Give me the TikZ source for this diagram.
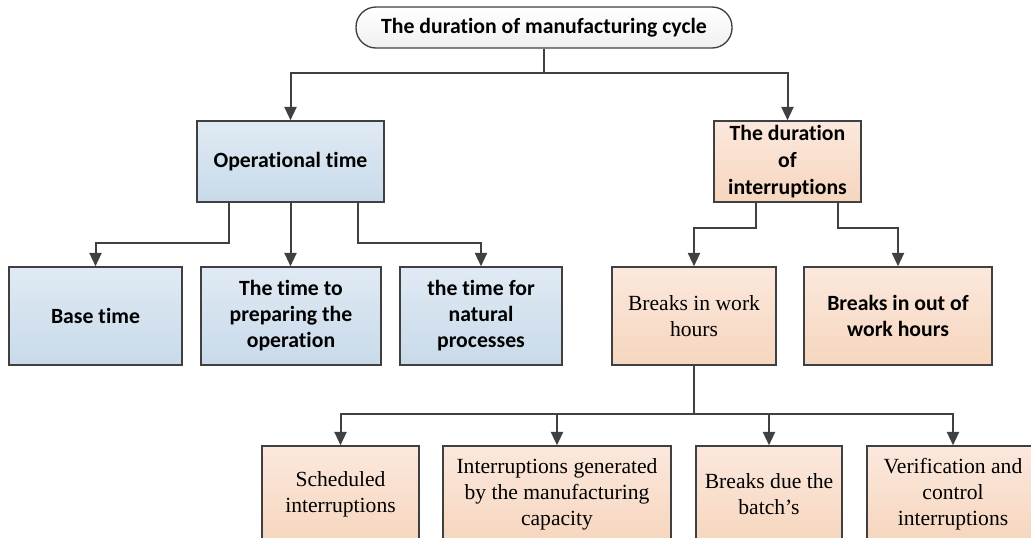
\documentclass[tikz,border=0pt]{standalone}
\usepackage{fontspec}
\setmainfont{Liberation Serif}
\newfontfamily\calibri[Ligatures=NoCommon]{Carlito}
\usetikzlibrary{arrows.meta,calc}
\definecolor{bluetop}{RGB}{224,234,244}
\definecolor{bluebot}{RGB}{200,218,234}
\definecolor{peachtop}{RGB}{251,232,221}
\definecolor{peachbot}{RGB}{246,214,190}
\definecolor{linegray}{RGB}{64,64,64}

\begin{document}
\begin{tikzpicture}
		[x=0.75pt,y=-0.75pt,
		 box/.style={draw=linegray,line width=1.1pt,align=center,inner sep=2pt,minimum height=73.5pt},
		 opbox/.style={box,top color=bluetop,bottom color=bluebot,font=\calibri\bfseries\fontsize{16.3}{19.5}\selectfont},
		 intbox/.style={box,top color=peachtop,bottom color=peachbot,font=\calibri\bfseries\fontsize{16.3}{20}\selectfont},
		 brkbox/.style={box,top color=peachtop,bottom color=peachbot,font=\fontsize{16.2}{19.5}\selectfont},
		 link/.style={draw=linegray,line width=1.5pt,-{Triangle[width=9pt,length=10pt]}}]
		\useasboundingbox (0,0) rectangle (1031,537);
		\clip (0,0) rectangle (1031,537);

		% the whole cycle on top
		\node[draw=linegray,line width=1pt,rounded corners=15pt,top color=white,bottom color=black!6,
			minimum width=282pt,minimum height=30.75pt,
			font=\calibri\bfseries\fontsize{16.3}{19}\selectfont] (cycle) at (544,27.5) {The duration of manufacturing cycle};

		% first level
		\node[opbox,minimum width=140.25pt,minimum height=60.75pt] (optime) at (290.5,161.5) {Operational time};
		\node[intbox,minimum width=110.25pt,minimum height=60.75pt] (interr) at (787.5,161.5) {The duration\\of\\interruptions};

		% parts of the operational time
		\node[opbox,minimum width=129.75pt] (base) at (95.5,316) {Base time};
		\node[opbox,minimum width=135pt] (prep) at (291,316) {The time to\\preparing the\\operation};
		\node[opbox,minimum width=121.5pt] (natural) at (481,316) {the time for\\natural\\processes};

		% kinds of interruptions
		\node[brkbox,minimum width=123pt] (workhrs) at (694,316) {Breaks in work\\hours};
		\node[intbox,minimum width=141pt] (outhrs) at (898,316) {Breaks in out of\\work hours};

		% breaks in work hours
		\node[brkbox,minimum width=117.75pt,minimum height=72pt] (sched) at (340.5,494) {Scheduled\\interruptions};
		\node[brkbox,minimum width=171pt,minimum height=72pt] (capac) at (557,494) {Interruptions generated\\by the manufacturing\\capacity};
		\node[brkbox,minimum width=109.5pt,minimum height=72pt] (batch) at (769,494) {Breaks due the\\batch’s};
		\node[brkbox,minimum width=129pt,minimum height=72pt] (verif) at (953,494) {Verification and\\control\\interruptions};

		% connectors
		\draw[link] (cycle.south) -- ++(0,24) -| (optime.north);
		\draw[link] (cycle.south) -- ++(0,24) -| (interr.north);

		\draw[link] ($(optime.south)+(-62,0)$) -- ++(0,40) -| (base.north);
		\draw[link] (optime.south) -- (optime.south |- prep.north);
		\draw[link] ($(optime.south)+(67,0)$) -- ++(0,40) -| (natural.north);

		\draw[link] ($(interr.south)+(-32,0)$) -- ++(0,25) -| (workhrs.north);
		\draw[link] ($(interr.south)+(50,0)$) -- ++(0,25) -| (outhrs.north);

		\draw[link] (workhrs.south) -- ++(0,48) -| (sched.north);
		\draw[link] (workhrs.south) -- ++(0,48) -| (capac.north);
		\draw[link] (workhrs.south) -- ++(0,48) -| (batch.north);
		\draw[link] (workhrs.south) -- ++(0,48) -| (verif.north);
	\end{tikzpicture}
\end{document}
